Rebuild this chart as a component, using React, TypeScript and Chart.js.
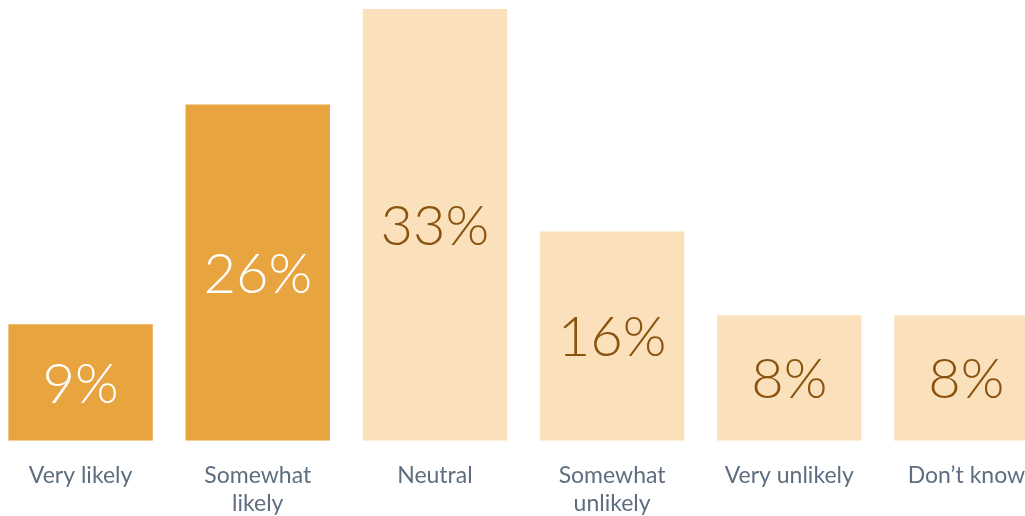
import React, { useEffect, useRef } from "react";
import { Chart, registerables } from "chart.js";

Chart.register(...registerables);

const categories: string[][] = [
  ["Very likely"],
  ["Somewhat", "likely"],
  ["Neutral"],
  ["Somewhat", "unlikely"],
  ["Very unlikely"],
  ["Don\u2019t know"],
];
const barHeights: number[] = [8.9, 25.7, 33, 16, 9.6, 9.6];
const valueLabels: string[] = ["9%", "26%", "33%", "16%", "8%", "8%"];
const barColors: string[] = ["#E8A43F", "#E8A43F", "#FBE1BB", "#FBE1BB", "#FBE1BB", "#FBE1BB"];
const labelColors: string[] = ["#FFFFFF", "#FFFFFF", "#8A5410", "#8A5410", "#8A5410", "#8A5410"];

const FONT = "Lato, 'Open Sans', sans-serif";

const valueLabelPlugin = {
  id: "valueLabels",
  afterDatasetsDraw(chart: any) {
    const { ctx } = chart;
    const meta = chart.getDatasetMeta(0);
    ctx.save();
    ctx.font = `300 56px ${FONT}`;
    ctx.textAlign = "center";
    ctx.textBaseline = "middle";
    meta.data.forEach((bar: any, i: number) => {
      const cy = (bar.y + bar.base) / 2;
      ctx.fillStyle = labelColors[i];
      ctx.fillText(valueLabels[i], bar.x, cy + 2);
    });
    ctx.restore();
  },
};

export default function App() {
  const ref = useRef<HTMLCanvasElement | null>(null);
  useEffect(() => {
    if (!ref.current) return;
    const chart = new Chart(ref.current, {
      type: "bar",
      data: {
        labels: categories,
        datasets: [
          {
            data: barHeights,
            backgroundColor: barColors,
            borderWidth: 0,
            categoryPercentage: 1,
            barPercentage: 0.815,
          },
        ],
      },
      options: {
        animation: false,
        responsive: true,
        maintainAspectRatio: false,
        layout: { padding: { top: 9, bottom: 2, left: 0, right: 0 } },
        plugins: { legend: { display: false }, tooltip: { enabled: false } },
        scales: {
          y: { display: false, min: 0, max: 33 },
          x: {
            grid: { display: false, drawTicks: false },
            border: { display: false },
            ticks: {
              color: "#5E6E80",
              padding: 21,
              maxRotation: 0,
              autoSkip: false,
              font: { family: FONT, size: 23, weight: 400, lineHeight: 1.2 },
            },
          },
        },
      },
      plugins: [valueLabelPlugin],
    });
    return () => chart.destroy();
  }, []);
  return (
    <div style={{ position: "fixed", left: 0, top: 0, width: 1025, height: 516, overflow: "hidden", background: "#fff" }}>
      <div style={{ position: "absolute", left: -8, top: 0, width: 1063, height: 540 }}>
        <canvas ref={ref} />
      </div>
    </div>
  );
}
